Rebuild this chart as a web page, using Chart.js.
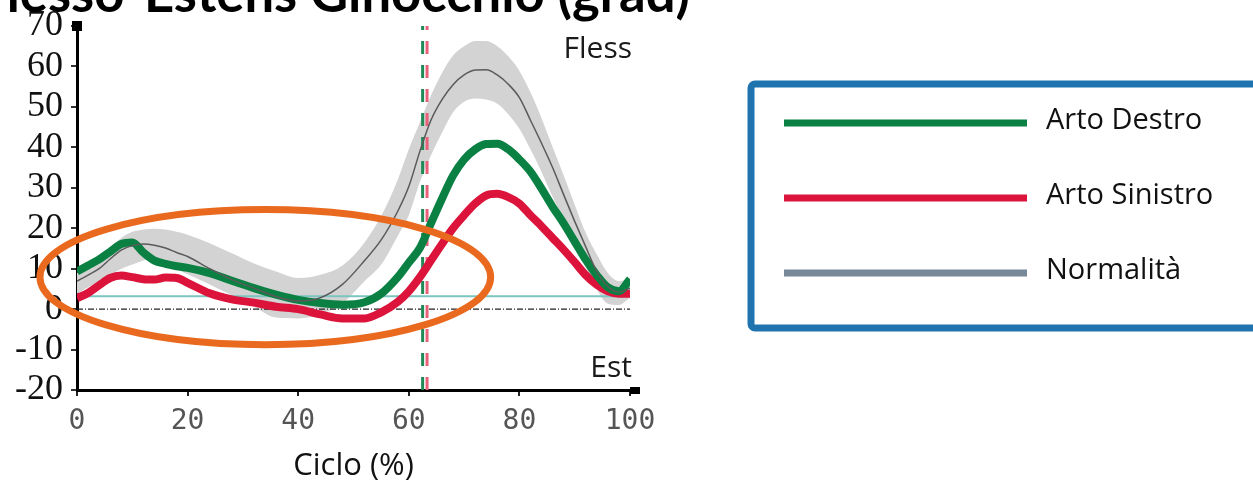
<!DOCTYPE html>
<html>
<head>
<meta charset="utf-8">
<script src="https://cdn.jsdelivr.net/npm/chart.js@4.4.0/dist/chart.umd.min.js"></script>
<style>
  html, body { margin: 0; padding: 0; background: #fff; }
  #wrap { width: 1253px; height: 486px; }
</style>
</head>
<body>
<div id="wrap"><canvas id="mycanvas" width="1253" height="486"></canvas></div>
<script>
// % del ciclo del passo
var cyclePct = [0,2,4,6,8,10,12,14,16,18,20,24,28,32,36,40,44,48,52,55,58,60,62,64,66,68,70,72,74,76,78,80,82,84,86,88,90,92,94,96,98,100];

// flesso-estensione ginocchio (gradi)
var artoDestro   = [9.3,10.8,12.3,14.2,16.1,16.5,14,12,11.2,10.6,10.2,8.9,7,5.2,3.6,2.3,1.5,1.1,1.7,3.8,7.9,11.5,15.1,21.2,27.3,33,37,39.5,40.8,40.9,39.5,37,34,29.8,25.3,21.2,16.7,12.2,8.4,5.4,4.4,7.4];
var artoSinistro = [2.7,4,5.9,7.7,8.3,7.9,7.4,7.3,7.8,7.7,6.5,3.9,2.4,1.6,0.6,0,-1.3,-2.3,-2.3,-0.8,1.8,4.4,7.9,12,16.1,20,23.2,26.1,28.1,28.5,27.7,26.1,23.2,20.5,17.6,14.7,11.6,8.4,6,4.4,3.8,3.8];
var normMean  = [6.9,8.4,10,12.4,14.6,15.7,16.1,15.8,15.1,14,13,10,7.3,5.2,3.1,2,2.8,6.1,12,17.1,24.2,30.3,39,46.7,51.8,55.5,57.9,59.1,59.2,57.9,55.6,52.3,46.7,41,35,28.3,21.7,15.4,9.3,5.6,4.2,5.2];
var normUpper = [8.9,11,12.8,15,17.6,19.1,19.7,19.9,19.7,19.1,18.4,16.3,13.8,11.3,9.3,7.7,8.5,10.8,16.5,23,32,39.5,46.2,52.8,58.4,62.7,65,66.3,66.3,65,62.5,58.9,53.6,47.2,40.1,33.1,25.8,18.8,13.5,8.9,6.9,7.7];
var normLower = [3.8,5.4,6.9,8.5,10,11,12,12.6,11.5,10,8.6,6.1,3.4,0.6,-2.1,-2.3,-1.3,1.5,6.9,11,18.1,23.2,31.4,38,43.6,48.7,51.3,52.1,51.8,50.8,48.2,44.6,39.5,33.9,27.8,22.2,16.6,10.5,4.9,1.3,1,2.8];

// stacco del piede (toe off) destro / sinistro
var toeOffDestro = 62.5;
var toeOffSinistro = 63.3;
var refLine = 3.2;

var yTicks = [-20,-10,0,10,20,30,40,50,60,70];
var xTicks = [0,20,40,60,80,100];

var legendLabels = ['Arto Destro', 'Arto Sinistro', 'Normalità'];
var legendColors = ['#0b8043', '#dc143c', '#778899'];

var chartTitle = 'Flesso-Estens Ginocchio (grad)';

function pts(arr) {
	return cyclePct.map(function(x, i){ return {x: x, y: arr[i]}; });
}
function vline(x) {
	return [{x: x, y: yTicks[0]}, {x: x, y: yTicks[yTicks.length - 1]}];
}
function hline(y) {
	return [{x: xTicks[0], y: y}, {x: xTicks[xTicks.length - 1], y: y}];
}

var extras = {
	id: 'extras',
	afterDraw: function(chart) {
		var ctx = chart.ctx;
		var xs = chart.scales.x, ys = chart.scales.y;
		ctx.save();

		// evidenziazione (ellisse arancione)
		var ex0 = xs.getPixelForValue(-6.7), ex1 = xs.getPixelForValue(74.8);
		var ey0 = ys.getPixelForValue(24.6), ey1 = ys.getPixelForValue(-8.8);
		ctx.beginPath();
		ctx.ellipse((ex0 + ex1) / 2, (ey0 + ey1) / 2, (ex1 - ex0) / 2, (ey1 - ey0) / 2, 0, 0, Math.PI * 2);
		ctx.lineWidth = 7;
		ctx.strokeStyle = '#e96a1e';
		ctx.stroke();

		// terminali degli assi
		ctx.fillStyle = '#000';
		var ax = xs.getPixelForValue(0), ay = ys.getPixelForValue(70);
		ctx.fillRect(ax - 5, ay - 5, 10, 10);
		var bx = xs.getPixelForValue(100), by = ys.getPixelForValue(-20);
		ctx.fillRect(bx, by - 3, 10, 7);

		// Fless / Est
		ctx.fillStyle = '#1a1a1a';
		ctx.font = '30px "Open Sans"';
		ctx.textAlign = 'right';
		ctx.textBaseline = 'alphabetic';
		ctx.fillText('Fless', 632, 58);
		ctx.fillText('Est', 632, 377);

		// titolo tagliato in alto
		ctx.font = 'bold 44px Lato';
		var w = ctx.measureText(chartTitle).width;
		ctx.font = 'bold ' + (44 * 712 / w).toFixed(1) + 'px Lato';
		ctx.fillStyle = '#000';
		ctx.fillText(chartTitle, 690, 12);

		// legenda
		ctx.lineWidth = 7;
		ctx.strokeStyle = '#1f74b0';
		ctx.beginPath();
		ctx.roundRect(751, 84, 560, 244, 4);
		ctx.stroke();
		ctx.textAlign = 'left';
		ctx.font = '29px "Open Sans"';
		for (var i = 0; i < legendLabels.length; i++) {
			var ly = 123 + i * 75;
			ctx.beginPath();
			ctx.moveTo(784, ly);
			ctx.lineTo(1027, ly);
			ctx.lineWidth = 7;
			ctx.strokeStyle = legendColors[i];
			ctx.stroke();
			ctx.fillStyle = '#111';
			ctx.fillText(legendLabels[i], 1046, ly + 6);
		}
		ctx.restore();
	}
};

var chartdata = {
	datasets: [
		{
			label: legendLabels[0],
			data: pts(artoDestro),
			borderColor: legendColors[0],
			borderWidth: 8,
			cubicInterpolationMode: 'monotone',
			order: 1
		},
		{
			label: legendLabels[1],
			data: pts(artoSinistro),
			borderColor: legendColors[1],
			borderWidth: 8,
			cubicInterpolationMode: 'monotone',
			order: 2
		},
		{
			label: legendLabels[2],
			data: pts(normMean),
			borderColor: '#5a5a5a',
			borderWidth: 1.5,
			cubicInterpolationMode: 'monotone',
			order: 0
		},
		{
			label: 'Norm +DS',
			data: pts(normUpper),
			borderColor: 'rgba(0,0,0,0)',
			backgroundColor: '#d3d3d3',
			fill: '+1',
			cubicInterpolationMode: 'monotone',
			order: 6
		},
		{
			label: 'Norm -DS',
			data: pts(normLower),
			borderColor: 'rgba(0,0,0,0)',
			fill: false,
			cubicInterpolationMode: 'monotone',
			order: 7
		},
		{
			label: 'Riferimento',
			data: hline(refLine),
			borderColor: '#7cc4bf',
			borderWidth: 2,
			tension: 0,
			order: 5
		},
		{
			label: 'Zero',
			data: hline(0),
			borderColor: '#222',
			borderWidth: 1.2,
			borderDash: [6, 2, 1, 2],
			tension: 0,
			order: 5
		},
		{
			label: 'Toe off Dx',
			data: vline(toeOffDestro),
			borderColor: '#1f8a55',
			borderWidth: 3,
			borderDash: [13, 11],
			tension: 0,
			order: 3
		},
		{
			label: 'Toe off Sx',
			data: vline(toeOffSinistro),
			borderColor: '#e8607a',
			borderWidth: 3,
			borderDash: [13, 11],
			tension: 0,
			order: 3
		}
	]
};

var ctx = document.getElementById('mycanvas');

var LineGraph = new Chart(ctx, {
	type: 'line',
	data: chartdata,
	plugins: [extras],
	options: {
		responsive: false,
		animation: false,
		events: [],
		layout: { padding: { top: 22, right: 623, left: 0, bottom: 0 } },
		elements: { point: { radius: 0 } },
		plugins: {
			legend: { display: false },
			tooltip: { enabled: false }
		},
		scales: {
			x: {
				type: 'linear',
				min: 0,
				max: 100,
				afterFit: function(s){ s.height = 96; },
				afterBuildTicks: function(s){ s.ticks = xTicks.map(function(v){ return {value: v}; }); },
				ticks: {
					font: { family: '"DejaVu Sans Mono"', size: 28 },
					color: '#555',
					padding: 9,
					maxRotation: 0
				},
				grid: { drawOnChartArea: false, tickLength: 6, color: '#222', lineWidth: 2 },
				border: { display: true, color: '#000', width: 3 },
				title: {
					display: true,
					text: 'Ciclo (%)',
					font: { family: '"Open Sans"', size: 31 },
					color: '#111',
					padding: { top: 0, bottom: 1 }
				}
			},
			y: {
				min: -20,
				max: 70,
				afterFit: function(s){ s.width = 77; },
				afterBuildTicks: function(s){ s.ticks = yTicks.map(function(v){ return {value: v}; }); },
				ticks: {
					font: { family: '"Liberation Serif"', size: 36, lineHeight: 1 },
					color: '#111',
					padding: 8
				},
				grid: { drawOnChartArea: false, tickLength: 6, color: '#333', lineWidth: 2 },
				border: { display: true, color: '#000', width: 3 }
			}
		}
	}
});
</script>
</body>
</html>
